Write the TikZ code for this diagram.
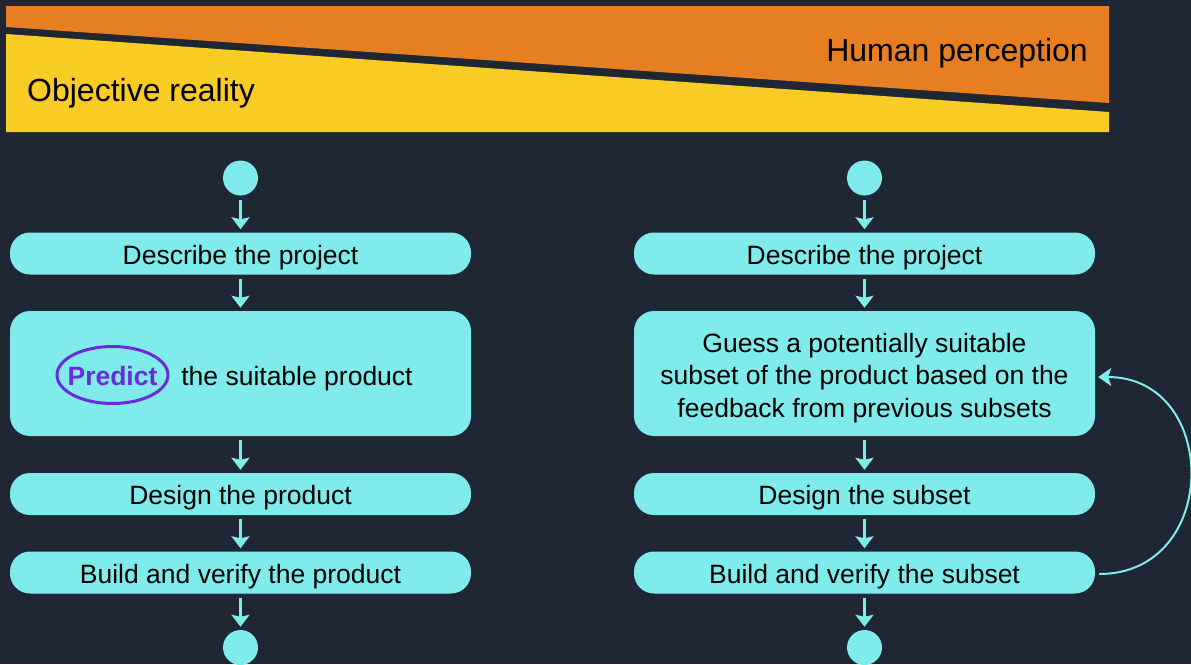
\documentclass[tikz,border=0pt]{standalone}
\usepackage{fontspec}
\setmainfont{Liberation Sans}
\usetikzlibrary{arrows.meta,shapes.geometric}
\definecolor{bg}{HTML}{1E2733}
\definecolor{cy}{HTML}{7FEBEB}
\definecolor{org}{HTML}{E67E22}
\definecolor{yel}{HTML}{F9CB25}
\definecolor{pur}{HTML}{6A2BD8}
\begin{document}
\begin{tikzpicture}[x=1pt,y=-1pt,
  stepbox/.style={fill=cy, rounded corners=20pt, minimum width=461pt, minimum height=42pt, inner sep=0pt, font=\fontsize{26.5}{32.5}\selectfont, text=black, align=center, text height=21pt, text depth=0pt},
  bigbox/.style={fill=cy, rounded corners=20pt, minimum width=461pt, minimum height=125pt, inner sep=0pt},
  plain/.style={font=\fontsize{26.5}{32.5}\selectfont, text=black, inner sep=0pt, align=center},
  dot/.style={circle, fill=cy, minimum size=35pt, inner sep=0pt},
  flow/.style={draw=cy, line width=2.5pt, -{Stealth[width=18pt,length=12pt,inset=2pt]}, shorten <=4pt, shorten >=3pt},
  loopline/.style={draw=cy, line width=2pt, -{Stealth[width=18pt,length=13pt,inset=3pt]}},
  bandtext/.style={font=\fontsize{32}{38}\selectfont, text=black, inner sep=0pt}
]
\fill[bg] (0,0) rectangle (1191,664);
\useasboundingbox (0,0) rectangle (1191,664);
% band
\fill[org] (6,6) -- (1109,6) -- (1109,103) -- (6,27) -- cycle;
\fill[yel] (6,34) -- (1109,112) -- (1109,132) -- (6,132) -- cycle;
\node[bandtext, anchor=base east] (hp) at (1088,61) {Human perception};
\node[bandtext, anchor=base west] (orl) at (27,101) {Objective reality};
% left column
\node[dot] (s1) at (240.5,178) {};
\node[stepbox] (d1) at (240.5,253.5) {Describe the project};
\node[bigbox] (p1) at (240.5,373.5) {};
\node[plain, text=pur, font=\fontsize{26.5}{32.5}\selectfont\bfseries, anchor=base] (pred) at (112.5,385.5) {Predict};
\draw[pur, line width=3pt] (112.5,375) ellipse [x radius=55.5, y radius=28.5];
\node[plain, anchor=base] (ptxt) at (297,385.5) {the suitable product};
\node[stepbox] (g1) at (240.5,494) {Design the product};
\node[stepbox] (b1) at (240.5,572.5) {Build and verify the product};
\node[dot] (e1) at (240.5,647.5) {};
\draw[flow] (s1.south) -- (d1.north);
\draw[flow] (d1.south) -- (p1.north);
\draw[flow] (p1.south) -- (g1.north);
\draw[flow] (g1.south) -- (b1.north);
\draw[flow] (b1.south) -- (e1.north);
% right column
\node[dot] (s2) at (864.5,178) {};
\node[stepbox] (d2) at (864.5,253.5) {Describe the project};
\node[bigbox] (p2) at (864.5,373.5) {};
\node[plain] (p2t) at (864.5,378) {Guess a potentially suitable\\subset of the product based on the\\feedback from previous subsets};
\node[stepbox] (g2) at (864.5,494) {Design the subset};
\node[stepbox] (b2) at (864.5,572.5) {Build and verify the subset};
\node[dot] (e2) at (864.5,647.5) {};
\draw[flow] (s2.south) -- (d2.north);
\draw[flow] (d2.south) -- (p2.north);
\draw[flow] (p2.south) -- (g2.north);
\draw[flow] (g2.south) -- (b2.north);
\draw[flow] (b2.south) -- (e2.north);
\draw[loopline] ([xshift=4pt,yshift=-1.5pt]b2.east) .. controls +(122,0) and +(122,0) .. ([xshift=3pt,yshift=-3.5pt]p2.east);
\end{tikzpicture}
\end{document}
